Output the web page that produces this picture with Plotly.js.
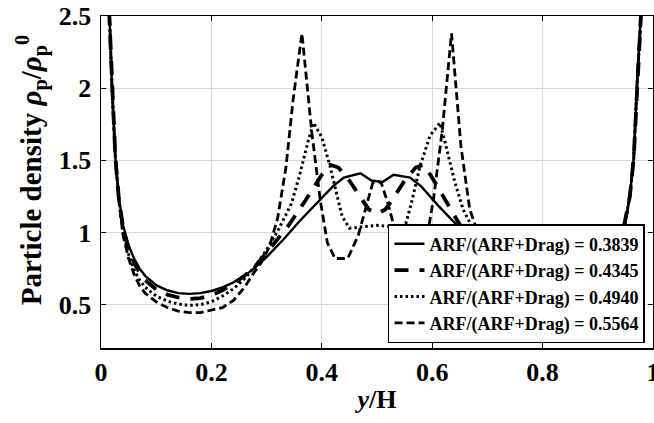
<!DOCTYPE html>
<html>
<head>
<meta charset="utf-8">
<script src="https://cdn.plot.ly/plotly-3.0.1.min.js"></script>
<style>html,body{margin:0;padding:0;background:#fff;}#chart{width:654px;height:423px;}</style>
</head>
<body>
<div id="chart"></div>
<script>
// Series names
const seriesNames = [
  "ARF/(ARF+Drag) = 0.3839",
  "ARF/(ARF+Drag) = 0.4345",
  "ARF/(ARF+Drag) = 0.4940",
  "ARF/(ARF+Drag) = 0.5564"
];

// ARF/(ARF+Drag) = 0.3839 (solid)
const xA = [0.005,0.015,0.02,0.026,0.032,0.04,0.05,0.06,0.07,0.08,0.10,0.12,0.14,0.16,0.18,0.20,0.22,0.24,0.26,0.28,0.30,0.33,0.36,0.39,0.42,0.44,0.47,0.49,0.51,0.53,0.56,0.58,0.61,0.64,0.67,0.70,0.72,0.74,0.76,0.78,0.80,0.82,0.84,0.86,0.88,0.90,0.915,0.93,0.945,0.952,0.958,0.965,0.971,0.979,0.99];
const yA = [3.4,2.55,2.0,1.52,1.25,1.05,0.91,0.82,0.75,0.70,0.635,0.60,0.58,0.575,0.58,0.595,0.62,0.655,0.70,0.76,0.83,0.95,1.08,1.20,1.32,1.38,1.41,1.36,1.35,1.40,1.38,1.32,1.19,1.07,0.95,0.83,0.76,0.70,0.655,0.62,0.595,0.58,0.575,0.58,0.60,0.635,0.70,0.80,1.02,1.12,1.25,1.51,2.02,2.55,3.4];

// ARF/(ARF+Drag) = 0.4345 (long dash)
const xB = [0.005,0.015,0.02,0.026,0.032,0.04,0.05,0.06,0.07,0.08,0.10,0.12,0.14,0.16,0.18,0.20,0.22,0.24,0.26,0.28,0.30,0.32,0.34,0.37,0.40,0.415,0.43,0.45,0.47,0.485,0.50,0.515,0.53,0.55,0.57,0.585,0.60,0.63,0.66,0.68,0.70,0.72,0.74,0.76,0.78,0.80,0.82,0.84,0.86,0.88,0.90,0.915,0.93,0.945,0.952,0.958,0.965,0.971,0.979,0.99];
const yB = [3.4,2.55,2.0,1.52,1.25,1.03,0.89,0.79,0.72,0.67,0.605,0.57,0.55,0.54,0.545,0.565,0.60,0.645,0.70,0.77,0.86,0.95,1.05,1.22,1.40,1.47,1.45,1.36,1.24,1.16,1.13,1.16,1.24,1.36,1.45,1.47,1.38,1.18,0.99,0.90,0.83,0.76,0.68,0.62,0.58,0.55,0.54,0.545,0.55,0.57,0.605,0.67,0.78,1.0,1.12,1.25,1.51,2.02,2.55,3.4];

// ARF/(ARF+Drag) = 0.4940 (dotted)
const xC = [0.005,0.015,0.02,0.026,0.032,0.04,0.05,0.06,0.07,0.08,0.10,0.12,0.14,0.16,0.18,0.20,0.22,0.24,0.26,0.28,0.30,0.32,0.345,0.36,0.375,0.385,0.40,0.415,0.428,0.437,0.45,0.47,0.50,0.53,0.55,0.562,0.578,0.596,0.614,0.623,0.641,0.656,0.672,0.686,0.70,0.72,0.74,0.76,0.78,0.80,0.82,0.84,0.86,0.88,0.90,0.915,0.93,0.945,0.952,0.958,0.965,0.971,0.979,0.99];
const yC = [3.4,2.55,2.0,1.52,1.24,1.0,0.85,0.74,0.67,0.62,0.56,0.525,0.505,0.495,0.50,0.52,0.56,0.61,0.68,0.77,0.88,1.01,1.20,1.40,1.63,1.76,1.66,1.46,1.25,1.11,1.03,1.04,1.05,1.04,1.03,1.20,1.46,1.67,1.76,1.63,1.35,1.16,1.04,0.95,0.88,0.77,0.68,0.61,0.56,0.52,0.50,0.495,0.505,0.525,0.56,0.62,0.72,0.98,1.12,1.25,1.51,2.02,2.55,3.4];

// ARF/(ARF+Drag) = 0.5564 (dashed)
const xD = [0.005,0.015,0.02,0.026,0.032,0.04,0.05,0.06,0.07,0.08,0.10,0.12,0.14,0.16,0.18,0.20,0.22,0.24,0.26,0.275,0.29,0.305,0.32,0.335,0.348,0.364,0.382,0.397,0.41,0.424,0.447,0.466,0.481,0.492,0.50,0.508,0.52,0.537,0.553,0.576,0.59,0.603,0.618,0.635,0.652,0.668,0.689,0.71,0.725,0.74,0.76,0.78,0.80,0.82,0.84,0.86,0.88,0.90,0.915,0.93,0.945,0.952,0.958,0.965,0.971,0.979,0.99];
const yD = [3.4,2.55,2.0,1.52,1.23,0.98,0.82,0.71,0.63,0.58,0.52,0.48,0.455,0.445,0.445,0.46,0.48,0.53,0.62,0.71,0.79,0.90,1.10,1.45,1.92,2.38,1.69,1.23,0.93,0.82,0.82,0.98,1.18,1.34,1.36,1.34,1.20,0.95,0.82,0.82,0.95,1.25,1.70,2.38,1.60,1.16,0.93,0.79,0.71,0.62,0.53,0.48,0.46,0.445,0.445,0.455,0.48,0.52,0.58,0.70,0.96,1.12,1.25,1.51,2.02,2.55,3.4];

const xTicks = [0, 0.2, 0.4, 0.6, 0.8, 1];
const xTickText = ["0", "0.2", "0.4", "0.6", "0.8", "1"];
const yTicks = [0.5, 1, 1.5, 2, 2.5];
const yTickText = ["0.5", "1", "1.5", "2", "2.5"];
const yTitle = "Particle density <i>ρ</i><sub>p</sub>/<i>ρ</i><sub>p</sub><sup>0</sup>";
const xTitle = "<i>y</i>/H";

const FONT = "Liberation Serif";

const styles = [
  {dash: "solid", width: 2.4},
  {dash: "14px,11px", width: 3.8},
  {dash: "2.5px,3px", width: 3},
  {dash: "8px,4px", width: 2.8}
];
const xs = [xA, xB, xC, xD];
const ys = [yA, yB, yC, yD];

const traces = seriesNames.map((n, i) => ({
  x: xs[i], y: ys[i], name: n, type: "scatter", mode: "lines",
  line: {color: "#000", width: styles[i].width, dash: styles[i].dash}
}));

const layout = {
  width: 654, height: 423,
  margin: {l: 101, r: 1, t: 16, b: 75, pad: 0},
  paper_bgcolor: "#fff", plot_bgcolor: "#fff",
  font: {family: FONT, size: 25, color: "#000", weight: "bold"},
  showlegend: true,
  legend: {
    x: 0.9855, y: 0.015, xanchor: "right", yanchor: "bottom",
    bgcolor: "#fff", bordercolor: "#000", borderwidth: 1.5,
    font: {family: FONT, size: 18, color: "#000", weight: "bold"},
    itemwidth: 30, tracegroupgap: 0
  },
  xaxis: {
    range: [0, 1], tickvals: xTicks, ticktext: xTickText,
    ticks: "inside", ticklen: 5, tickwidth: 1.2, tickcolor: "#000",
    showline: true, linecolor: "#000", linewidth: 1.5, mirror: "ticks",
    showgrid: true, gridcolor: "#d6d6d6", gridwidth: 1, zeroline: false,
    tickfont: {family: FONT, size: 26, color: "#000", weight: "bold"},
    ticklabelstandoff: 0, ticklabeloverflow: "allow",
    title: {text: xTitle, font: {family: FONT, size: 26, color: "#000", weight: "bold"}, standoff: 4}
  },
  yaxis: {
    range: [0.2, 2.5], tickvals: yTicks, ticktext: yTickText,
    ticks: "inside", ticklen: 5, tickwidth: 1.2, tickcolor: "#000",
    showline: true, linecolor: "#000", linewidth: 1.5, mirror: "ticks",
    showgrid: true, gridcolor: "#d6d6d6", gridwidth: 1, zeroline: false,
    tickfont: {family: FONT, size: 26, color: "#000", weight: "bold"},
    ticklabelstandoff: 3, ticklabeloverflow: "allow"
  },
  annotations: [{
    text: yTitle, textangle: -90, showarrow: false,
    xref: "paper", yref: "paper", x: -0.127, y: 0.535,
    xanchor: "center", yanchor: "middle",
    font: {family: FONT, size: 29, color: "#000", weight: "bold"}
  }]
};

Plotly.newPlot("chart", traces, layout, {displayModeBar: false, staticPlot: true});
</script>
</body>
</html>
